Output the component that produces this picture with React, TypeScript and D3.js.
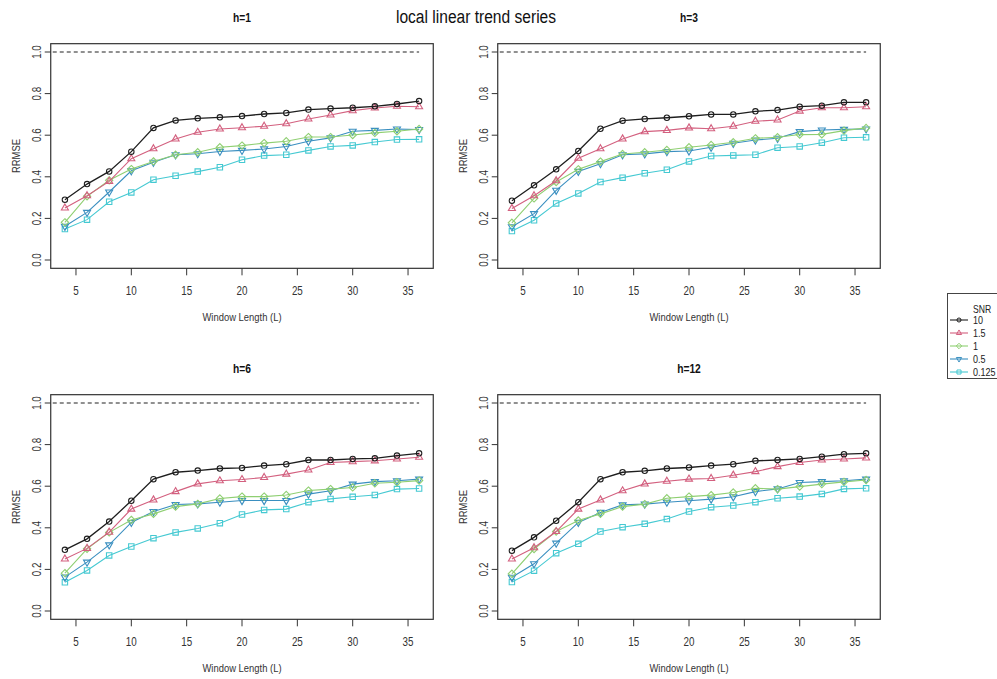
import * as d3 from "d3";
import React, { useRef, useEffect } from "react";

// window lengths on the x axis
const windowLengths = [4, 6, 8, 10, 12, 14, 16, 18, 20, 22, 24, 26, 28, 30, 32, 34, 36];
const snrLabels = ["10", "1.5", "1", "0.5", "0.125"];
const xTicks = [5, 10, 15, 20, 25, 30, 35];
const yTicks = [0, 0.2, 0.4, 0.6, 0.8, 1.0];
const panelTitles = ["h=1", "h=3", "h=6", "h=12"];

// h=1
const h1_10 = [0.29, 0.365, 0.426, 0.521, 0.635, 0.671, 0.681, 0.686, 0.692, 0.702, 0.707, 0.723, 0.728, 0.732, 0.739, 0.75, 0.764];
const h1_15 = [0.25, 0.309, 0.378, 0.487, 0.535, 0.582, 0.614, 0.63, 0.636, 0.643, 0.655, 0.678, 0.697, 0.718, 0.731, 0.739, 0.737];
const h1_1 = [0.181, 0.306, 0.383, 0.437, 0.474, 0.506, 0.518, 0.542, 0.55, 0.562, 0.571, 0.591, 0.591, 0.601, 0.611, 0.619, 0.63];
const h1_05 = [0.162, 0.229, 0.327, 0.429, 0.47, 0.506, 0.511, 0.522, 0.527, 0.534, 0.546, 0.571, 0.587, 0.619, 0.623, 0.63, 0.627];
const h1_0125 = [0.149, 0.194, 0.28, 0.325, 0.386, 0.405, 0.425, 0.446, 0.482, 0.502, 0.506, 0.527, 0.546, 0.551, 0.567, 0.579, 0.58];

// h=3
const h3_10 = [0.285, 0.359, 0.436, 0.524, 0.631, 0.67, 0.678, 0.684, 0.691, 0.7, 0.7, 0.715, 0.721, 0.737, 0.742, 0.758, 0.758];
const h3_15 = [0.248, 0.309, 0.381, 0.489, 0.535, 0.582, 0.617, 0.623, 0.635, 0.631, 0.643, 0.667, 0.673, 0.716, 0.732, 0.732, 0.737];
const h3_1 = [0.179, 0.296, 0.375, 0.436, 0.473, 0.51, 0.518, 0.529, 0.542, 0.553, 0.566, 0.585, 0.59, 0.603, 0.604, 0.622, 0.635];
const h3_05 = [0.16, 0.223, 0.335, 0.426, 0.463, 0.506, 0.51, 0.521, 0.524, 0.542, 0.561, 0.577, 0.585, 0.617, 0.625, 0.628, 0.63];
const h3_0125 = [0.139, 0.191, 0.272, 0.32, 0.375, 0.396, 0.417, 0.434, 0.474, 0.5, 0.503, 0.506, 0.54, 0.546, 0.564, 0.588, 0.59];

// h=6
const h6_10 = [0.294, 0.347, 0.43, 0.53, 0.634, 0.667, 0.675, 0.685, 0.688, 0.699, 0.706, 0.726, 0.726, 0.731, 0.734, 0.747, 0.758];
const h6_15 = [0.25, 0.301, 0.379, 0.49, 0.534, 0.574, 0.611, 0.626, 0.632, 0.642, 0.658, 0.678, 0.714, 0.718, 0.722, 0.731, 0.739];
const h6_1 = [0.182, 0.299, 0.378, 0.438, 0.467, 0.502, 0.515, 0.541, 0.55, 0.55, 0.558, 0.579, 0.586, 0.594, 0.614, 0.619, 0.627];
const h6_05 = [0.163, 0.235, 0.318, 0.426, 0.478, 0.512, 0.515, 0.523, 0.531, 0.531, 0.531, 0.562, 0.578, 0.61, 0.622, 0.626, 0.634];
const h6_0125 = [0.138, 0.195, 0.267, 0.31, 0.35, 0.378, 0.397, 0.422, 0.464, 0.486, 0.49, 0.523, 0.539, 0.549, 0.558, 0.586, 0.589];

// h=12
const h12_10 = [0.29, 0.354, 0.434, 0.523, 0.634, 0.667, 0.674, 0.685, 0.69, 0.699, 0.706, 0.722, 0.726, 0.731, 0.742, 0.754, 0.758];
const h12_15 = [0.25, 0.304, 0.382, 0.49, 0.534, 0.578, 0.611, 0.624, 0.634, 0.637, 0.653, 0.67, 0.694, 0.714, 0.726, 0.731, 0.736];
const h12_1 = [0.179, 0.298, 0.382, 0.435, 0.467, 0.502, 0.514, 0.542, 0.55, 0.557, 0.57, 0.59, 0.586, 0.598, 0.61, 0.621, 0.63];
const h12_05 = [0.162, 0.227, 0.326, 0.426, 0.474, 0.51, 0.514, 0.523, 0.53, 0.538, 0.549, 0.574, 0.587, 0.618, 0.622, 0.626, 0.634];
const h12_0125 = [0.139, 0.194, 0.278, 0.323, 0.382, 0.403, 0.419, 0.442, 0.478, 0.499, 0.507, 0.523, 0.542, 0.55, 0.563, 0.587, 0.59];

const panelData = [
    [h1_10, h1_15, h1_1, h1_05, h1_0125],
    [h3_10, h3_15, h3_1, h3_05, h3_0125],
    [h6_10, h6_15, h6_1, h6_05, h6_0125],
    [h12_10, h12_15, h12_1, h12_05, h12_0125],
];

const colors = ["#1e1e1e", "#d3607f", "#8fcf72", "#3a8fc0", "#45c9d2"];
const shapes = ["circle", "triangleUp", "diamond", "triangleDown", "square"];

const font = "'Liberation Sans', Arial, sans-serif";
const squeeze = 0.82; // the original text is narrow, so squeeze glyphs horizontally

// R-ish plotting symbols, s = scale
function symbolPath(shape, s) {
    const r = 2.7 * s;
    if (shape === "circle") {
        return `M${r},0A${r},${r} 0 1,1 ${-r},0A${r},${r} 0 1,1 ${r},0Z`;
    }
    if (shape === "square") {
        return `M${-r},${-r}H${r}V${r}H${-r}Z`;
    }
    if (shape === "diamond") {
        const d = r * 1.35;
        return `M0,${-d}L${d},0L0,${d}L${-d},0Z`;
    }
    const xc = r * 1.3;
    const up = r * 1.5;
    const dn = r * 0.75;
    if (shape === "triangleUp") {
        return `M0,${-up}L${xc},${dn}L${-xc},${dn}Z`;
    }
    return `M0,${up}L${xc},${-dn}L${-xc},${-dn}Z`;
}

function addText(g, str, x, y, size, opts: any = {}) {
    const rot = opts.rotate ? ` rotate(${opts.rotate})` : "";
    return g.append("text")
        .text(str)
        .attr("transform", `translate(${x}, ${y})${rot} scale(${squeeze}, 1)`)
        .attr("text-anchor", opts.anchor || "middle")
        .style("font-family", font)
        .style("font-weight", opts.weight || "normal")
        .style("font-size", `${size}px`)
        .style("fill", opts.fill || "#333");
}

function App() {
    const svgRef = useRef();
    const width = 997;
    const height = 679;

    useEffect(() => {
        document.body.style.margin = "0";

        const svg = d3.select(svgRef.current)
            .attr("width", width)
            .attr("height", height)
            .style("display", "block")
            .style("background", "white");

        svg.selectAll("*").remove();

        const xScale = d3.scaleLinear().domain([4, 36]).range([64.9, 419.1]);
        const yScale = d3.scaleLinear().domain([0, 1]).range([260, 52]);
        // R pads the data range by 4%
        const bx0 = xScale(2.72), bx1 = xScale(37.28);
        const by0 = yScale(1.04), by1 = yScale(-0.04);

        const offsets = [[0, 0], [447, 0], [0, 351], [447, 351]];

        addText(svg, "local linear trend series", 476, 23, 19, { fill: "#111" });

        offsets.forEach(([ox, oy], p) => {
            const g = svg.append("g").attr("transform", `translate(${ox}, ${oy})`);

            addText(g, panelTitles[p], (bx0 + bx1) / 2, 22, 12.5, { weight: "bold", fill: "#111" });

            // box
            g.append("rect")
                .attr("x", bx0)
                .attr("y", by0)
                .attr("width", bx1 - bx0)
                .attr("height", by1 - by0)
                .attr("fill", "none")
                .attr("stroke", "#333")
                .attr("stroke-width", 1.2);

            // x ticks
            xTicks.forEach(t => {
                g.append("line")
                    .attr("x1", xScale(t)).attr("x2", xScale(t))
                    .attr("y1", by1).attr("y2", by1 + 7)
                    .attr("stroke", "#333");
                addText(g, t, xScale(t), 294.5, 12);
            });

            // y ticks
            yTicks.forEach(t => {
                g.append("line")
                    .attr("x1", bx0).attr("x2", bx0 - 6)
                    .attr("y1", yScale(t)).attr("y2", yScale(t))
                    .attr("stroke", "#333");
                addText(g, t.toFixed(1), 40.5, yScale(t), 12, { rotate: -90 });
            });

            addText(g, "Window Length (L)", (bx0 + bx1) / 2, 321, 11.5);
            addText(g, "RRMSE", 19.5, 156, 11.5, { rotate: -90 });

            // reference line at 1
            g.append("line")
                .attr("x1", bx0 + 2).attr("x2", xScale(36))
                .attr("y1", yScale(1)).attr("y2", yScale(1))
                .attr("stroke", "#222")
                .attr("stroke-width", 1.2)
                .attr("stroke-dasharray", "4,3");

            const line = d3.line()
                .x((d, i) => xScale(windowLengths[i]))
                .y(d => yScale(d));

            // draw the weakest series first so black ends up on top
            [4, 3, 2, 1, 0].forEach(s => {
                const vals = panelData[p][s];
                g.append("path")
                    .datum(vals)
                    .attr("d", line)
                    .attr("fill", "none")
                    .attr("stroke", colors[s])
                    .attr("stroke-width", s === 0 ? 1.3 : 1.1);

                g.selectAll(`.pt${s}`)
                    .data(vals)
                    .enter()
                    .append("path")
                    .attr("class", `pt${s}`)
                    .attr("d", symbolPath(shapes[s], 1))
                    .attr("transform", (d, i) => `translate(${xScale(windowLengths[i])}, ${yScale(d)})`)
                    .attr("fill", "none")
                    .attr("stroke", colors[s])
                    .attr("stroke-width", 1.1);
            });
        });

        // legend
        const lg = svg.append("g");
        lg.append("rect")
            .attr("x", 947.5)
            .attr("y", 293.5)
            .attr("width", 60)
            .attr("height", 85)
            .attr("fill", "white")
            .attr("stroke", "#444");

        addText(lg, "SNR", 973, 313, 10.5, { anchor: "start", fill: "#222" });

        snrLabels.forEach((lab, i) => {
            const ly = 320 + i * 13;
            lg.append("line")
                .attr("x1", 950).attr("x2", 968)
                .attr("y1", ly).attr("y2", ly)
                .attr("stroke", colors[i])
                .attr("stroke-width", 1.1);
            lg.append("path")
                .attr("d", symbolPath(shapes[i], 0.75))
                .attr("transform", `translate(959, ${ly})`)
                .attr("fill", "none")
                .attr("stroke", colors[i]);
            addText(lg, lab, 973, ly + 4, 11, { anchor: "start", fill: "#222" });
        });
    }, []);

    return (
        <div>
            <svg ref={svgRef}></svg>
        </div>
    );
}

export default App;
